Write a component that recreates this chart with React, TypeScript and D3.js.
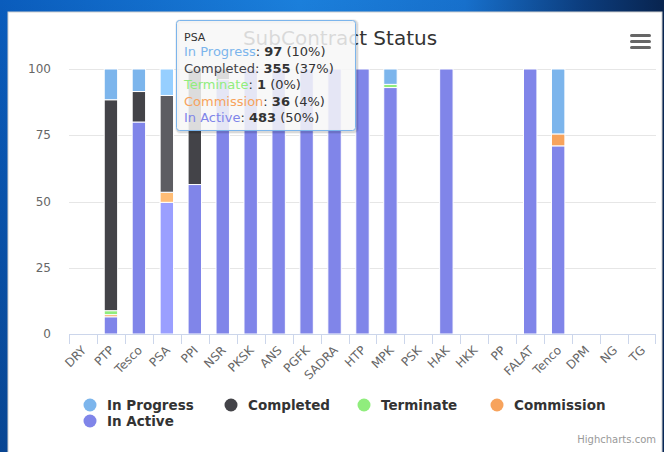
import React from "react";
import * as d3 from "d3";

const categories = ["DRY", "PTP", "Tesco", "PSA", "PPI", "NSR", "PKSK", "ANS", "PGFK", "SADRA", "HTP", "MPK", "PSK", "HAK", "HKK", "PP", "FALAT", "Tenco", "DPM", "NG", "TG"];
const seriesNames = ["In Progress", "Completed", "Terminate", "Commission", "In Active"];
const inProgress = [0, 116, 85, 97, 0, 0, 0, 0, 0, 0, 0, 58, 0, 0, 0, 0, 0, 245, 0, 0, 0];
const completed = [0, 796, 115, 355, 436, 40, 0, 0, 0, 0, 0, 0, 0, 0, 0, 0, 0, 0, 0, 0, 0];
const terminate = [0, 15, 0, 1, 0, 0, 0, 0, 0, 0, 0, 12, 0, 0, 0, 0, 0, 0, 0, 0, 0];
const commission = [0, 8, 0, 36, 0, 0, 0, 0, 0, 0, 0, 0, 0, 0, 0, 0, 0, 45, 0, 0, 0];
const inActive = [0, 65, 800, 483, 564, 960, 1000, 1000, 1000, 1000, 1000, 930, 0, 1000, 0, 0, 1000, 710, 0, 0, 0];
const yTicks = [0, 25, 50, 75, 100];
const seriesColors = ["#7cb5ec", "#434348", "#90ed7d", "#f7a35c", "#8085e9"];
const hoveredCategory = "PSA";
const chartTitle = "SubContract Status";
const creditsText = "Highcharts.com";

const FONT = "'DejaVu Sans', Verdana, sans-serif";

function brighten(hex: string, amt: number) {
  const c = d3.rgb(hex);
  const f = (v: number) => Math.min(255, Math.round(v + 255 * amt));
  return d3.rgb(f(c.r), f(c.g), f(c.b)).formatHex();
}

export default function App() {
  const W = 664, H = 452;
  const left = 69, right = 656, top = 69, bottom = 334;
  const valuesBySeries: Record<string, number[]> = {
    "In Progress": inProgress,
    "Completed": completed,
    "Terminate": terminate,
    "Commission": commission,
    "In Active": inActive,
  };
  const colorOf: Record<string, string> = {};
  seriesNames.forEach((s, i) => (colorOf[s] = seriesColors[i]));

  const table = categories.map((c, i) => {
    const row: any = { cat: c };
    seriesNames.forEach((s) => (row[s] = valuesBySeries[s][i]));
    return row;
  });
  const stackKeys = [...seriesNames].reverse();
  const stacked = d3.stack<any>().keys(stackKeys).offset(d3.stackOffsetExpand)(table);

  const x = d3.scaleBand<string>().domain(categories).range([left, right]).paddingInner(0).paddingOuter(0);
  const y = d3.scaleLinear().domain([0, 100]).range([bottom, top]);
  const step = x.step();
  const barW = step * 0.6 * 0.8;

  const hi = categories.indexOf(hoveredCategory);
  const total = seriesNames.reduce((a, s) => a + valuesBySeries[s][hi], 0);

  const legendItems = [
    { name: seriesNames[0], cx: 90, cy: 405 },
    { name: seriesNames[1], cx: 231, cy: 405 },
    { name: seriesNames[2], cx: 364, cy: 405 },
    { name: seriesNames[3], cx: 497, cy: 405 },
    { name: seriesNames[4], cx: 90, cy: 421 },
  ];

  return (
    <div style={{ position: "fixed", left: 0, top: 0, width: W, height: H }}>
      <svg width={W} height={H} style={{ display: "block", fontFamily: FONT }}>
        <defs>
          <linearGradient id="bgH" x1="0" y1="0" x2="1" y2="0">
            <stop offset="0" stopColor="#0a5cbc" />
            <stop offset="0.45" stopColor="#1b7fdb" />
            <stop offset="0.7" stopColor="#1770cc" />
            <stop offset="0.88" stopColor="#0c3c7c" />
            <stop offset="1" stopColor="#08244f" />
          </linearGradient>
          <linearGradient id="bgV" x1="0" y1="0" x2="0" y2="1">
            <stop offset="0" stopColor="#062a60" stopOpacity="0" />
            <stop offset="1" stopColor="#062a60" stopOpacity="0.45" />
          </linearGradient>
        </defs>
        <rect x={0} y={0} width={W} height={H} fill="url(#bgH)" />
        <rect x={0} y={0} width={W} height={H} fill="url(#bgV)" />
        <rect x={8} y={12} width={654} height={H} fill="#ffffff" stroke="#cfcfcf" strokeWidth={1} />

        <text x={340} y={45} textAnchor="middle" fontSize={20} fill="#333333">{chartTitle}</text>

        <g fill="#666666">
          <rect x={630} y={34} width={21} height={3} rx={1.5} />
          <rect x={630} y={40} width={21} height={3} rx={1.5} />
          <rect x={630} y={46} width={21} height={3} rx={1.5} />
        </g>

        {yTicks.map((t) => (
          <g key={t}>
            {t !== 0 && (
              <line x1={left} x2={right} y1={Math.round(y(t)) + 0.5} y2={Math.round(y(t)) + 0.5} stroke="#e6e6e6" />
            )}
            <text x={51} y={y(t) + 4} textAnchor="end" fontSize={12} fill="#666666">{t}</text>
          </g>
        ))}

        {stacked.map((layer) => {
          const name = layer.key;
          const base = colorOf[name];
          return (
            <g key={name}>
              {layer.map((d, i) => {
                const y0 = y(d[0] * 100), y1 = y(d[1] * 100);
                if (!(y0 - y1 > 0)) return null;
                const cx = (x(categories[i]) as number) + step / 2;
                const fill = categories[i] === hoveredCategory ? brighten(base, 0.1) : base;
                return (
                  <rect key={i} x={cx - barW / 2} y={y1} width={barW} height={y0 - y1} fill={fill} stroke="#ffffff" strokeWidth={1} />
                );
              })}
            </g>
          );
        })}

        <line x1={left} x2={right} y1={bottom + 0.5} y2={bottom + 0.5} stroke="#ccd6eb" />
        {categories.map((c, i) => (
          <line key={c} x1={Math.round(x(c) as number) + 0.5} x2={Math.round(x(c) as number) + 0.5} y1={bottom} y2={bottom + 10} stroke="#ccd6eb" />
        ))}
        <line x1={right - 0.5} x2={right - 0.5} y1={bottom} y2={bottom + 10} stroke="#ccd6eb" />
        {categories.map((c) => {
          const cx = (x(c) as number) + step / 2;
          return (
            <text key={c} transform={`translate(${cx + 4},${bottom + 17}) rotate(-45)`} textAnchor="end" fontSize={12} fill="#666666">{c}</text>
          );
        })}

        {legendItems.map((it) => (
          <g key={it.name}>
            <circle cx={it.cx} cy={it.cy} r={6.5} fill={colorOf[it.name]} />
            <text x={it.cx + 17} y={it.cy + 5} fontSize={13.5} fontWeight="bold" fill="#333333">{it.name}</text>
          </g>
        ))}

        <text x={656} y={443} textAnchor="end" fontSize={10} fill="#999999">{creditsText}</text>

        <g>
          <rect x={177.5} y={21.5} width={179} height={110} rx={3} fill="none" stroke="#000" strokeOpacity={0.05} strokeWidth={5} />
          <rect x={177.5} y={21.5} width={179} height={110} rx={3} fill="none" stroke="#000" strokeOpacity={0.1} strokeWidth={3} />
          <rect x={176.5} y={20.5} width={179} height={110} rx={3} fill="rgb(247,247,247)" fillOpacity={0.85} stroke={seriesColors[0]} strokeWidth={1} />
          <text x={184} y={41} fontSize={11} fill="#333333">{hoveredCategory}</text>
          {seriesNames.map((s, k) => {
            const v = valuesBySeries[s][hi];
            const pct = Math.round((v / total) * 100);
            return (
              <text key={s} x={184} y={56 + k * 16.5} fontSize={13} fill="#333333">
                <tspan fill={colorOf[s]}>{s}</tspan>
                <tspan>: </tspan>
                <tspan fontWeight="bold">{v}</tspan>
                <tspan> ({pct}%)</tspan>
              </text>
            );
          })}
        </g>
      </svg>
    </div>
  );
}
